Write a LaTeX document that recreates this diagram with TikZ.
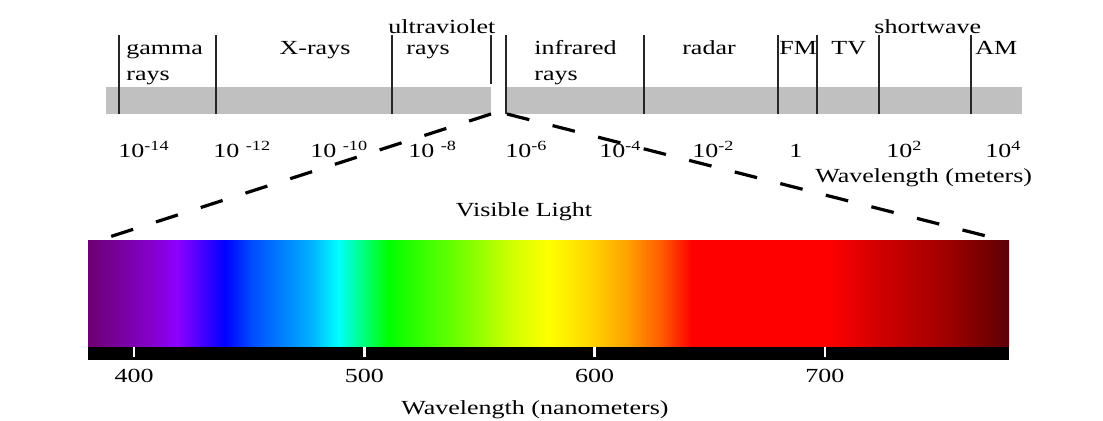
\documentclass[tikz,border=0pt]{standalone}
\usepackage{fontspec}
\setmainfont[FakeStretch=1.3]{Liberation Serif}
\usetikzlibrary{positioning}
\definecolor{bandgray}{RGB}{192,192,192}
\pgfdeclarehorizontalshading{visible}{100bp}{%
  rgb(0bp)=(0.43,0.0,0.45); rgb(25bp)=(0.43,0.0,0.45);
  rgb(28.47bp)=(0.52,0.0,0.80); rgb(29.89bp)=(0.55,0.0,1.0);
  rgb(32.44bp)=(0.0,0.0,1.0); rgb(33.9bp)=(0.0,0.3,1.0);
  rgb(37.16bp)=(0.0,0.7,1.0); rgb(38.57bp)=(0.0,1.0,1.0);
  rgb(41.29bp)=(0.0,1.0,0.0); rgb(43.02bp)=(0.2,1.0,0.0);
  rgb(45.63bp)=(0.5,1.0,0.0); rgb(48.02bp)=(0.82,1.0,0.0);
  rgb(49.97bp)=(1.0,1.0,0.0); rgb(51.98bp)=(1.0,0.86,0.0);
  rgb(54.32bp)=(1.0,0.63,0.0); rgb(56.16bp)=(1.0,0.35,0.0);
  rgb(57.79bp)=(1.0,0.0,0.0); rgb(65.17bp)=(1.0,0.0,0.0);
  rgb(67.89bp)=(0.82,0.0,0.0); rgb(71.53bp)=(0.63,0.0,0.0);
  rgb(73.86bp)=(0.45,0.0,0.0); rgb(75bp)=(0.36,0.0,0.04);
  rgb(100bp)=(0.36,0.0,0.04)}

\begin{document}
\begin{tikzpicture}[x=0.5pt, y=-0.5pt, font=\fontsize{10}{12}\selectfont,
  sep/.style={line width=0.9pt, black!85},
  lab/.style={inner sep=0pt, anchor=base west},
  mid/.style={inner sep=0pt, anchor=base},
  spec/.style={shade, shading=visible, minimum width=460.5pt, minimum height=53pt, inner sep=0pt, outer sep=0pt},
  scalebar/.style={fill=black, minimum width=460.5pt, minimum height=6.5pt, inner sep=0pt, outer sep=0pt},
  zoomline/.style={line width=1.6pt, dash pattern=on 11.5pt off 12pt}
]
\useasboundingbox (0,0) rectangle (1103,421);
% electromagnetic band
\fill[bandgray] (106,87) rectangle (491,114);
\fill[bandgray] (507,87) rectangle (1022,114);
\foreach \x in {119,216,392,506,644,778,817,879,971}
  \draw[sep] (\x,35) -- (\x,114);
\draw[sep] (491,35) -- (491,84);
\node[lab] (gamma) at (126,55) {gamma};
\node[lab] (gammab) at (126,81) {rays};
\node[mid] (xray) at (315,55) {X-rays};
\node[lab] (uv) at (388,34) {ultraviolet};
\node[mid] (uvb) at (428,55) {rays};
\node[lab] (ir) at (534,55) {infrared};
\node[lab] (irb) at (534,81) {rays};
\node[mid] (radar) at (709,55) {radar};
\node[lab] (fm) at (779,55) {FM};
\node[lab] (tv) at (831,55) {TV};
\node[lab] (sw) at (874,34) {shortwave};
\node[lab] (am) at (975,55) {AM};
% wavelengths in meters
\foreach \x/\t [count=\i] in {118/10\textsuperscript{-14}, 213/10 \textsuperscript{-12},
    310/10 \textsuperscript{-10}, 408/10 \textsuperscript{-8}, 505/10\textsuperscript{-6},
    599/10\textsuperscript{-4}, 692/10\textsuperscript{-2}, 789/1,
    886/10\textsuperscript{2}, 985/10\textsuperscript{4}}
  \node[lab] (m\i) at (\x,158) {\t};
\node[lab] (wlm) at (815,183) {Wavelength (meters)};
% visible part
\node[mid] (vis) at (524,217) {Visible Light};
\node[spec] (spec) at (548.5,294) {};
\node[scalebar, below=0pt of spec] (bar) {};
\foreach \n in {400,500,600,700} {
  \draw[white, line width=1.2pt] ({88+(\n-380)*2.3025},347) -- ++(0,10);
  \node[mid] (nm\n) at ({88+(\n-380)*2.3025},383) {\n};
}
\node[mid] (wln) at (535,415) {Wavelength (nanometers)};
\coordinate (gapl) at (491,114);
\coordinate (gapr) at (507,114);
\draw[zoomline] (gapl) -- ([xshift=6pt, yshift=0.5pt]spec.north west);
\draw[zoomline] (gapr) -- ([xshift=-7.5pt, yshift=1.5pt]spec.north east);
\end{tikzpicture}
\end{document}
